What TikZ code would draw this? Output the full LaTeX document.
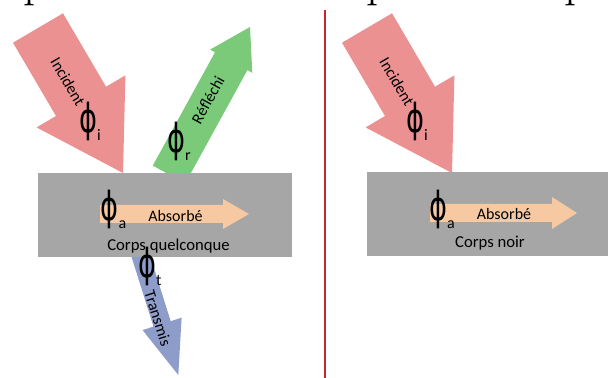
\documentclass[tikz,border=0pt]{standalone}
\usepackage{fontspec}
\usepackage{graphicx}
\newfontfamily\labfont{Carlito}
\newfontfamily\phifont{DejaVu Sans}
\definecolor{arrred}{RGB}{235,145,145}
\definecolor{arrgreen}{RGB}{122,202,122}
\definecolor{arrblue}{RGB}{142,156,201}
\definecolor{arrpeach}{RGB}{246,201,162}
\definecolor{boxgray}{RGB}{166,166,166}
\definecolor{sepred}{RGB}{196,40,46}
\newcommand{\phisub}[1]{\scalebox{0.68}[1]{\phifont\fontsize{30}{32}\selectfont\symbol{"03D5}}\raisebox{-6pt}{\labfont\fontsize{12}{12}\selectfont #1}}
\begin{document}
\begin{tikzpicture}[x=0.75pt,y=-0.75pt,
  lab/.style={font=\labfont\fontsize{12}{14}\selectfont, inner sep=0pt},
  labbig/.style={font=\labfont\fontsize{12.5}{14}\selectfont, inner sep=0pt},
  phinode/.style={inner sep=0pt, anchor=base west},
  ptext/.style={inner sep=0pt, anchor=base west, font=\fontsize{36}{36}\selectfont},
  incid/.style={fill=arrred},
  refl/.style={fill=arrgreen},
  trans/.style={fill=arrblue},
  absorb/.style={fill=arrpeach},
  body/.style={fill=boxgray},
  sepline/.style={draw=sepred, line width=1.5pt}]
\useasboundingbox (0,0) rectangle (608,378);
\clip (0,0) rectangle (608,378);
\fill[white] (0,0) rectangle (608,378);

% cut-off title letters at the top
\node[ptext] (p1) at (23,-3.3) {p};
\node[ptext] (p2) at (366,-3.3) {p};
\node[ptext] (p3) at (564,-3.3) {p};

% separator
\coordinate (septop) at (324.5,10);
\coordinate (sepbot) at (324.5,380);
\draw[sepline] (septop) -- (sepbot);

% ---------- left panel ----------
\fill[incid] (63,13.3) -- (106,86.7) -- (125.4,75.4) -- (123,173) -- (36.6,127.4) -- (56,116) -- (13,42.7) -- cycle;
\fill[refl] (152.8,165.6) -- (215,52.3) -- (210.1,49.6) -- (250,27) -- (252.3,72.8) -- (247.4,70.1) -- (185.2,183.4) -- cycle;
\fill[trans] (126.7,241.6) -- (153.5,326.6) -- (142.6,330.1) -- (178.3,375) -- (181.6,317.7) -- (170.7,321.2) -- (143.9,236.2) -- cycle;
\fill[body] (38,173) rectangle (292,257);
\fill[absorb] (100,205) -- (223,205) -- (223,199) -- (249,214) -- (223,229) -- (223,223) -- (100,223) -- cycle;

\node[lab, rotate=-59.6] (inc1) at (68,82) {Incident};
\node[phinode] (phii1) at (79,132.5) {\phisub{i}};
\node[lab, rotate=61.25] (refl1) at (208,100) {Réfléchi};
\node[phinode] (phir) at (167,152.5) {\phisub{r}};
\node[phinode] (phia1) at (100.5,220.5) {\phisub{a}};
\node[lab, anchor=base] (abs1) at (175.5,221.5) {Absorbé};
\node[labbig, anchor=base] (corps1) at (168.5,251) {Corps quelconque};
\node[phinode] (phit) at (138,277.5) {\phisub{t}};
\node[lab, rotate=-72.4] (trans1) at (158,318.5) {Transmis};

% ---------- right panel ----------
\begin{scope}[shift={(329,0)}]
\fill[incid] (63,13.3) -- (106,86.7) -- (125.4,75.4) -- (123,173) -- (36.6,127.4) -- (56,116) -- (13,42.7) -- cycle;
\end{scope}
\fill[body] (367,172.5) rectangle (612,256);
\fill[absorb] (430,204) -- (552,204) -- (552,197) -- (577,213) -- (552,229) -- (552,222) -- (430,222) -- cycle;

\node[lab, rotate=-59.6] (inc2) at (397,82) {Incident};
\node[phinode] (phii2) at (406,132.5) {\phisub{i}};
\node[phinode] (phia2) at (429,220) {\phisub{a}};
\node[lab, anchor=base] (abs2) at (504,219.5) {Absorbé};
\node[labbig, anchor=base] (corps2) at (490,247.5) {Corps noir};
\end{tikzpicture}
\end{document}
